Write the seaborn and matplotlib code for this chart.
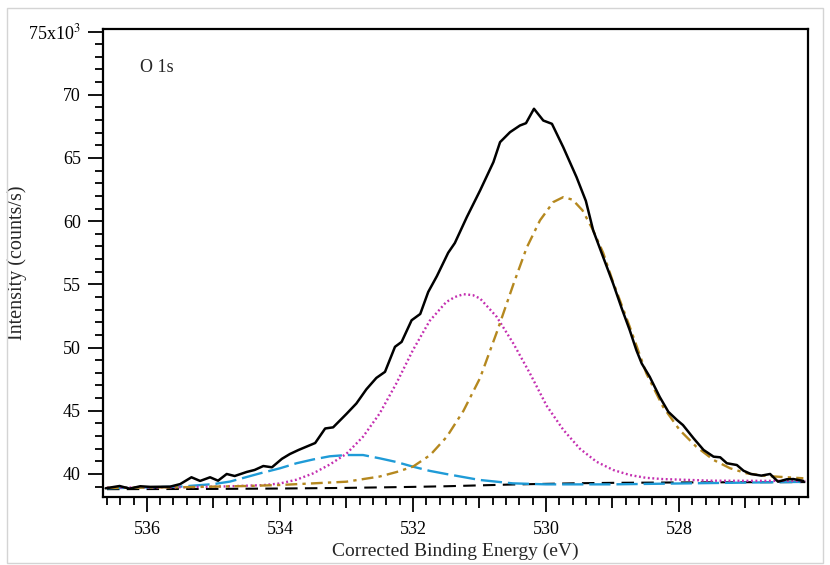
import numpy as np
import pandas as pd
import matplotlib
matplotlib.use("Agg")
import matplotlib.pyplot as plt
import seaborn as sns
from matplotlib.ticker import FixedLocator, FuncFormatter, MultipleLocator
from matplotlib.patches import Rectangle

# ---- data (intensity in units of 10^3 counts/s) ----
raw_E = [536.62, 536.41, 536.26, 536.10, 535.95, 535.65, 535.50, 535.33, 535.20, 535.05,
         534.93, 534.80, 534.68, 534.50, 534.38, 534.25, 534.12, 533.97, 533.85, 533.72,
         533.47, 533.32, 533.20, 533.00, 532.85, 532.70, 532.55, 532.42, 532.27, 532.17,
         532.02, 531.89, 531.77, 531.64, 531.47, 531.37, 531.19, 530.99, 530.79, 530.69,
         530.54, 530.39, 530.30, 530.18, 530.04, 529.91, 529.74, 529.54, 529.40, 529.29,
         529.14, 528.99, 528.86, 528.74, 528.64, 528.56, 528.44, 528.29, 528.16, 528.03,
         527.94, 527.78, 527.63, 527.48, 527.38, 527.28, 527.13, 527.03, 526.92, 526.76,
         526.63, 526.51, 526.38, 526.28, 526.13]
raw_I = [38.87, 39.05, 38.84, 39.03, 38.98, 39.00, 39.20, 39.74, 39.45, 39.74,
         39.47, 40.00, 39.84, 40.16, 40.32, 40.63, 40.53, 41.20, 41.58, 41.90,
         42.45, 43.60, 43.69, 44.75, 45.58, 46.70, 47.60, 48.08, 50.06, 50.45,
         52.16, 52.66, 54.40, 55.65, 57.50, 58.27, 60.32, 62.43, 64.67, 66.25,
         67.04, 67.57, 67.75, 68.89, 67.96, 67.70, 65.85, 63.48, 61.60, 59.27,
         57.16, 55.06, 53.09, 51.37, 49.79, 48.74, 47.69, 46.10, 44.92, 44.27,
         43.87, 42.82, 41.90, 41.37, 41.32, 40.85, 40.71, 40.26, 40.00, 39.87,
         40.00, 39.39, 39.58, 39.60, 39.45]

bg_E = [536.6, 535.0, 534.0, 533.0, 532.0, 531.5, 531.0, 530.5, 530.0, 529.5, 529.0, 528.0, 527.0, 526.1]
bg_I = [38.80, 38.82, 38.85, 38.90, 38.98, 39.03, 39.10, 39.17, 39.22, 39.27, 39.30, 39.33, 39.35, 39.36]

c1_E = [536.6, 535.5, 535.0, 534.75, 534.3, 534.0, 533.75, 533.5, 533.25, 533.0, 532.75, 532.5,
        532.25, 532.0, 531.75, 531.5, 531.0, 530.5, 530.0, 529.0, 528.0, 527.0, 526.1]
c1_I = [38.87, 39.00, 39.20, 39.40, 40.05, 40.45, 40.85, 41.15, 41.40, 41.50, 41.50, 41.24,
        40.95, 40.58, 40.25, 40.00, 39.53, 39.26, 39.18, 39.18, 39.25, 39.32, 39.38]

c2_E = [536.6, 535.5, 534.8, 534.25, 534.0, 533.75, 533.5, 533.25, 533.0, 532.75, 532.5, 532.25,
        532.0, 531.75, 531.5, 531.37, 531.24, 531.1, 530.99, 530.74, 530.49, 530.24, 529.99,
        529.74, 529.49, 529.24, 528.99, 528.74, 528.5, 528.25, 527.5, 526.1]
c2_I = [38.92, 38.95, 39.02, 39.12, 39.25, 39.55, 40.05, 40.75, 41.60, 42.95, 44.79, 47.16,
        49.80, 52.10, 53.60, 54.00, 54.22, 54.15, 53.88, 52.43, 50.32, 47.95, 45.40,
        43.50, 42.00, 40.97, 40.32, 39.92, 39.70, 39.60, 39.47, 39.45]

c3_E = [536.6, 535.5, 534.5, 534.0, 533.5, 533.0, 532.5, 532.25, 532.0, 531.74, 531.49, 531.24,
        530.99, 530.74, 530.49, 530.29, 530.09, 529.89, 529.74, 529.6, 529.45, 529.29, 529.14,
        529.0, 528.74, 528.49, 528.24, 527.99, 527.74, 527.48, 527.23, 526.98, 526.68, 526.13]
c3_I = [38.90, 38.95, 39.05, 39.13, 39.26, 39.39, 39.80, 40.15, 40.58, 41.50, 42.95, 45.00,
        47.60, 51.20, 55.00, 57.90, 60.06, 61.51, 61.90, 61.70, 60.85, 59.27, 57.50,
        55.32, 51.64, 47.95, 45.32, 43.48, 42.16, 41.11, 40.45, 40.05, 39.84, 39.66]

y_ticks = [40, 45, 50, 55, 60, 65, 70, 75]
x_ticks = [528, 530, 532, 534, 536]

# ---- style ----
sns.set_theme(style="ticks")
plt.rcParams["font.family"] = ["Liberation Serif", "DejaVu Serif"]
plt.rcParams["mathtext.fontset"] = "stix"

fig = plt.figure(figsize=(8.3, 5.65), dpi=100)
ax = fig.add_axes([103 / 830, 1 - 497 / 565, 705 / 830, 468 / 565])

fig.patches.append(Rectangle((7 / 830, 1 - 563 / 565), 816 / 830, 555 / 565,
                             transform=fig.transFigure, fill=False,
                             edgecolor="#d4d4d4", linewidth=1.0))

def draw(E, I, **kw):
    df = pd.DataFrame({"E": E, "I": I})
    sns.lineplot(data=df, x="E", y="I", ax=ax, estimator=None, sort=False, **kw)

draw(bg_E, bg_I, color="black", linewidth=1.5, linestyle=(0, (6, 3.5)))
draw(c1_E, c1_I, color="#1f9bd7", linewidth=1.7, linestyle=(0, (9, 2.5)))
draw(c2_E, c2_I, color="#c42fb0", linewidth=1.7, linestyle=(0, (0.8, 1.1)))
draw(c3_E, c3_I, color="#b5881f", linewidth=1.7, linestyle=(0, (5, 2.2, 1.4, 2.2)))
draw(raw_E, raw_I, color="black", linewidth=1.8)

ax.set_xlim(536.66, 526.06)
ax.set_ylim(38.18, 75.2)

ax.xaxis.set_major_locator(FixedLocator(list(range(527, 537))))
ax.xaxis.set_minor_locator(MultipleLocator(0.2))
ax.xaxis.set_major_formatter(FuncFormatter(lambda v, p: f"{int(round(v))}" if int(round(v)) in x_ticks else ""))
ax.yaxis.set_major_locator(FixedLocator(y_ticks))
ax.yaxis.set_minor_locator(MultipleLocator(1))
ax.yaxis.set_major_formatter(FuncFormatter(lambda v, p: "75x10$^{3}$" if round(v) == 75 else f"{int(round(v))}"))

ax.tick_params(which="major", direction="out", length=11, width=1.3, labelsize=13,
               colors="black")
ax.tick_params(axis="x", which="major", pad=6.5)
ax.tick_params(axis="y", which="major", pad=5)
ax.tick_params(which="minor", direction="out", length=5.5, width=1.3, colors="black")
fig.canvas.draw()
for t, v in zip(ax.xaxis.get_major_ticks(), ax.xaxis.get_majorticklocs()):
    if int(round(v)) not in x_ticks:
        t.tick1line.set_markersize(8)

for s in ax.spines.values():
    s.set_linewidth(1.6)
    s.set_color("black")

ax.set_xlabel("Corrected Binding Energy (eV)", fontsize=14)
ax.set_ylabel("Intensity (counts/s)", fontsize=14.5)
ax.xaxis.set_label_coords(0.5, -0.098)
ax.yaxis.set_label_coords(-0.108, 0.5)
ax.text(0.052, 0.917, "O 1s", transform=ax.transAxes, fontsize=13, va="center", ha="left")

fig.savefig("out.png", dpi=100)
